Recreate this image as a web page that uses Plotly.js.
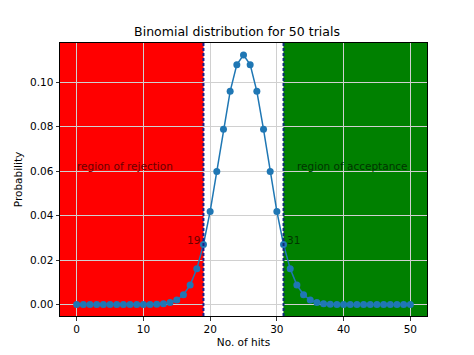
<!DOCTYPE html>
<html>
<head>
<meta charset="utf-8">
<script src="https://cdn.plot.ly/plotly-3.0.1.min.js"></script>
<style>html,body{margin:0;padding:0;background:#fff;}#chart{width:474px;height:355px;}</style>
</head>
<body>
<div id="chart"></div>
<script>
// Number of hits (0..50)
const hits = [0,1,2,3,4,5,6,7,8,9,10,11,12,13,14,15,16,17,18,19,20,21,22,23,24,25,26,27,28,29,30,31,32,33,34,35,36,37,38,39,40,41,42,43,44,45,46,47,48,49,50];
// Probability for each number of hits
const probability = [0.0000000,0.0000000,0.0000000,0.0000000,0.0000000,0.0000000,0.0000000,0.0000001,0.0000005,0.0000022,0.0000091,0.0000332,0.0001078,0.0003204,0.0008330,0.0019991,0.0043731,0.0087461,0.0160345,0.0270058,0.0418589,0.0597984,0.0788253,0.0959617,0.1079569,0.1122752,0.1079569,0.0959617,0.0788253,0.0597984,0.0418589,0.0270058,0.0160345,0.0087461,0.0043731,0.0019991,0.0008330,0.0003204,0.0001078,0.0000332,0.0000091,0.0000022,0.0000005,0.0000001,0.0000000,0.0000000,0.0000000,0.0000000,0.0000000,0.0000000,0.0000000];
const lowerBound = 19;
const upperBound = 31;
const xTicks = [0,10,20,30,40,50];
const yTicks = [0.00,0.02,0.04,0.06,0.08,0.10];
const xRange = [-2.5, 52.5];
const yRange = [-0.0052, 0.1177];

const font = "DejaVu Sans, sans-serif";
const trace = {
  x: hits, y: probability, type: 'scatter', mode: 'lines+markers',
  line: {color: '#1f77b4', width: 1.5},
  marker: {color: '#1f77b4', size: 7},
  hoverinfo: 'none'
};
const shapes = [
  {type:'rect', xref:'x', yref:'paper', x0:xRange[0], x1:lowerBound, y0:0, y1:1, fillcolor:'#ff0000', line:{width:0}, layer:'below'},
  {type:'rect', xref:'x', yref:'paper', x0:upperBound, x1:xRange[1], y0:0, y1:1, fillcolor:'#008000', line:{width:0}, layer:'below'},
  {type:'rect', xref:'x', yref:'paper', x0:xRange[0], x1:lowerBound, y0:0, y1:1, fillcolor:'#ff0000', opacity:0.4, line:{width:0}, layer:'between'},
  {type:'rect', xref:'x', yref:'paper', x0:upperBound, x1:xRange[1], y0:0, y1:1, fillcolor:'#008000', opacity:0.4, line:{width:0}, layer:'between'},
  {type:'line', xref:'x', yref:'paper', x0:lowerBound, x1:lowerBound, y0:0, y1:1, line:{color:'#1a1a8c', width:2, dash:'3px,2px'}, layer:'above'},
  {type:'line', xref:'x', yref:'paper', x0:upperBound, x1:upperBound, y0:0, y1:1, line:{color:'#102a7a', width:2, dash:'3px,2px'}, layer:'above'}
];
const annotations = [
  {x:0, y:0.06, xref:'x', yref:'y', text:'region of rejection', showarrow:false, xanchor:'left', yanchor:'bottom', xshift:-2, yshift:-3, font:{family:font, size:10.5, color:'#6a0000'}},
  {x:33, y:0.06, xref:'x', yref:'y', text:'region of acceptance', showarrow:false, xanchor:'left', yanchor:'bottom', xshift:-2, yshift:-3, font:{family:font, size:10.5, color:'#003500'}},
  {x:lowerBound, y:probability[lowerBound], xref:'x', yref:'y', text:String(lowerBound), showarrow:false, xanchor:'right', yanchor:'bottom', xshift:-1, yshift:-4, font:{family:font, size:10.5, color:'#6a0000'}},
  {x:upperBound, y:probability[upperBound], xref:'x', yref:'y', text:String(upperBound), showarrow:false, xanchor:'left', yanchor:'bottom', xshift:1, yshift:-4, font:{family:font, size:10.5, color:'#003500'}}
];
const layout = {
  width:474, height:355,
  margin:{l:59.5, r:47, t:43, b:39, pad:0},
  paper_bgcolor:'#ffffff', plot_bgcolor:'#ffffff',
  showlegend:false,
  title:{text:'Binomial distribution for 50 trials', font:{family:font, size:12.5, color:'#000'}, x:0.5, xanchor:'center', y:1-32/355, yanchor:'middle'},
  xaxis:{range:xRange, tickvals:xTicks, ticktext:xTicks.map(String), ticks:'outside', ticklen:3.5, tickcolor:'#000', tickwidth:0.8,
    showgrid:true, gridcolor:'#d0d0d0', gridwidth:1, zeroline:false, showline:true, linecolor:'#000', linewidth:1, mirror:true,
    tickfont:{family:font, size:10.5, color:'#000'}, title:{text:'No. of hits', font:{family:font, size:10.5, color:'#000'}, standoff:4}},
  yaxis:{range:yRange, tickvals:yTicks, ticktext:yTicks.map(v=>v.toFixed(2)), ticks:'outside', ticklen:3.5, tickcolor:'#000', tickwidth:0.8,
    showgrid:true, gridcolor:'#d0d0d0', gridwidth:1, zeroline:false, showline:true, linecolor:'#000', linewidth:1, mirror:true,
    tickfont:{family:font, size:10.5, color:'#000'}, title:{text:'Probability', font:{family:font, size:10.5, color:'#000'}, standoff:5}},
  shapes:shapes, annotations:annotations
};
Plotly.newPlot('chart', [trace], layout, {staticPlot:true, displayModeBar:false});
</script>
</body>
</html>
